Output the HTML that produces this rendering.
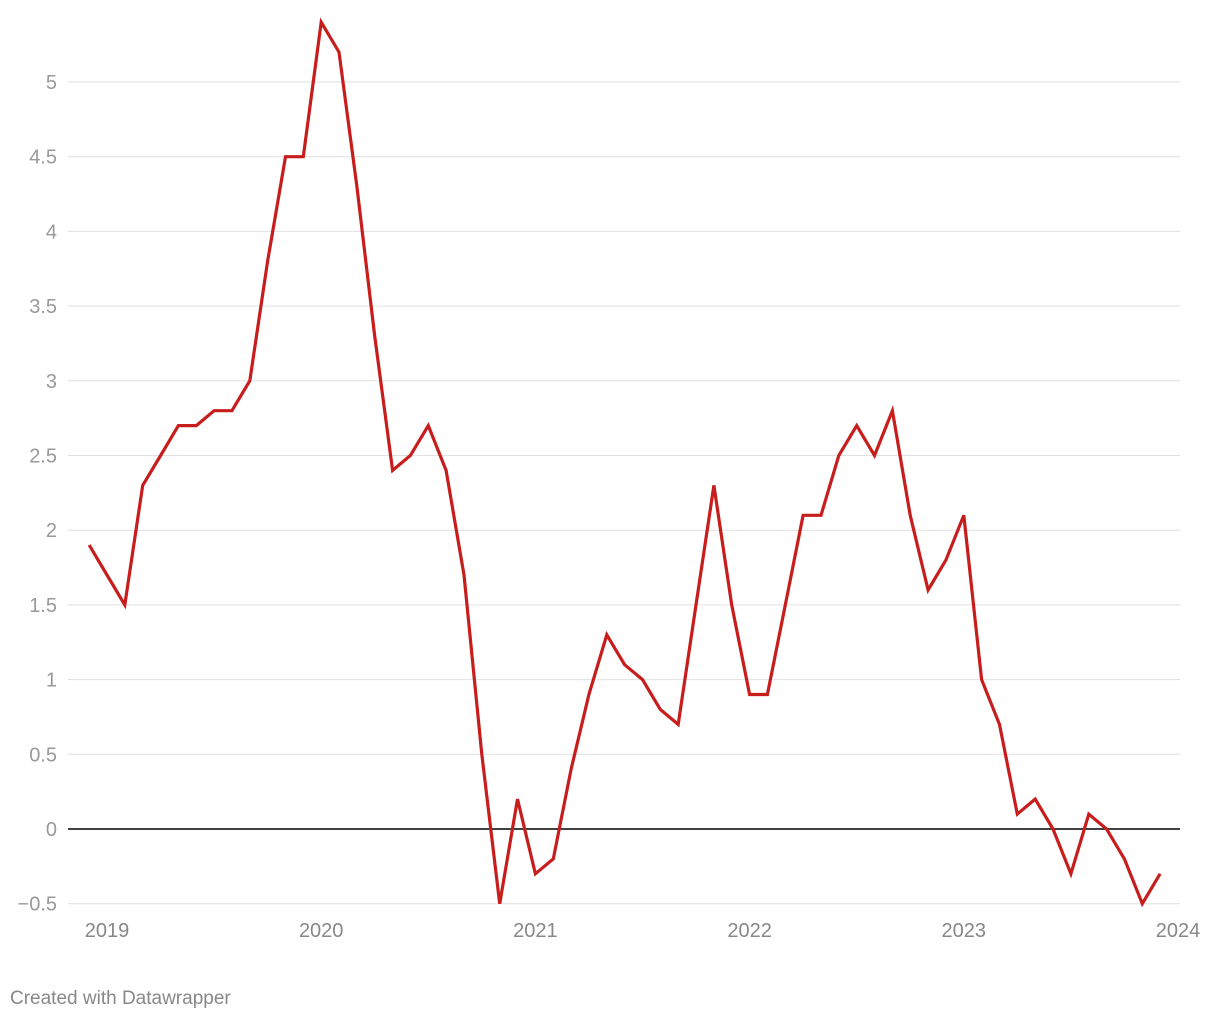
<!DOCTYPE html>
<html><head><meta charset="utf-8"><style>
body{margin:0;background:#fff;font-family:"Liberation Sans",sans-serif;}
svg text{font-family:"Liberation Sans",sans-serif;}
</style></head><body>
<svg id="chart" width="1220" height="1020" viewBox="0 0 1220 1020" xmlns="http://www.w3.org/2000/svg">
<g id="grid"></g>
<g id="yaxis"></g>
<g id="xaxis"></g>
<g id="series"></g>
<text x="10" y="1004" font-size="19" fill="#888">Created with Datawrapper</text>
</svg>
<script>
const values=[1.9,1.7,1.5,2.3,2.5,2.7,2.7,2.8,2.8,3.0,3.8,4.5,4.5,5.4,5.2,4.3,3.3,2.4,2.5,2.7,2.4,1.7,0.5,-0.5,0.2,-0.3,-0.2,0.4,0.9,1.3,1.1,1.0,0.8,0.7,1.5,2.3,1.5,0.9,0.9,1.5,2.1,2.1,2.5,2.7,2.5,2.8,2.1,1.6,1.8,2.1,1.0,0.7,0.1,0.2,0.0,-0.3,0.1,0.0,-0.2,-0.5,-0.3];
const startMonth=-1; // months from Jan 2019 (Dec 2018)
const yTicks=[-0.5,0,0.5,1,1.5,2,2.5,3,3.5,4,4.5,5];
const yTickLabels=["\u22120.5","0","0.5","1","1.5","2","2.5","3","3.5","4","4.5","5"];
const xTicks=[2019,2020,2021,2022,2023,2024];
const NS="http://www.w3.org/2000/svg";
const y=v=>829-v*149.4;
const xm=m=>107+m*(214.2/12);
const xy=yr=>xm((yr-2019)*12);
function mk(tag,attrs,parent){const e=document.createElementNS(NS,tag);for(const k in attrs)e.setAttribute(k,attrs[k]);parent.appendChild(e);return e;}
const grid=document.getElementById('grid'),ya=document.getElementById('yaxis'),xa=document.getElementById('xaxis'),se=document.getElementById('series');
yTicks.forEach((t,i)=>{
  const l=mk('line',{x1:68,x2:1180,y1:y(t),y2:y(t),stroke:t===0?'#000':'#e0e0e0','stroke-width':t===0?1.5:1},grid);
  
  
  const tx=mk('text',{x:57,y:y(t)+7,'text-anchor':'end','font-size':20,fill:'#999'},ya);
  tx.textContent=yTickLabels[i];
  
  
});
xTicks.forEach(yr=>{
  const tx=mk('text',{x:xy(yr),y:937,'text-anchor':'middle','font-size':20,fill:'#888'},xa);
  tx.textContent=yr;
  
  
});
const pts=values.map((v,i)=>xm(startMonth+i).toFixed(1)+','+y(v).toFixed(1)).join(' ');
const pl=mk('polyline',{points:pts,fill:'none',stroke:'#c71e1d','stroke-width':3.2,'stroke-linejoin':'miter'},se);


</script>
</body></html>
